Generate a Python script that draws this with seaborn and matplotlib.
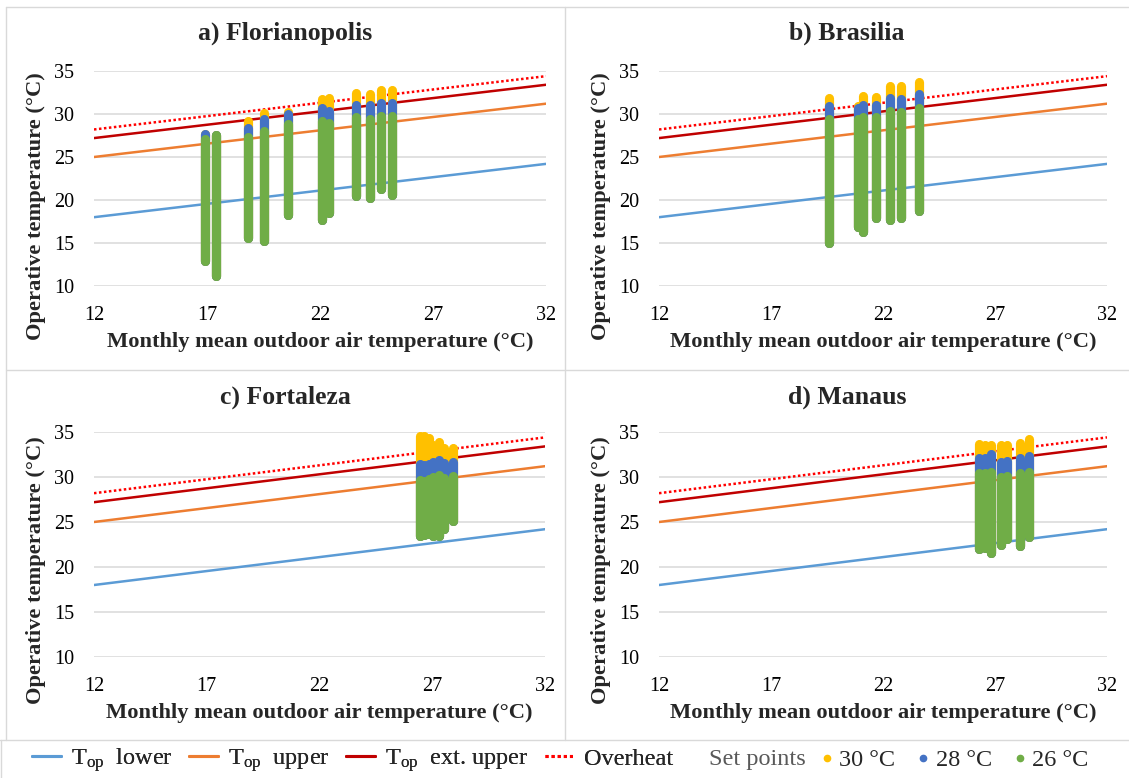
import matplotlib
matplotlib.use("Agg")
import matplotlib.pyplot as plt
from matplotlib.lines import Line2D
import pandas as pd
import seaborn as sns

# ---------------------------------------------------------------------------
# Adaptive comfort limits, given at the ends of the outdoor temperature range
# ---------------------------------------------------------------------------
band_x = [12, 32]
top_lower = [18.0, 24.2]
top_upper = [25.0, 31.2]
top_ext_upper = [27.2, 33.4]
overheat = [28.2, 34.4]

set_points = ["30 °C", "28 °C", "26 °C"]

# ---------------------------------------------------------------------------
# Hourly operative temperature ranges per month (column of points per month):
# monthly mean outdoor temperature, lowest value, and highest value per set point
# ---------------------------------------------------------------------------
flo_tout = [16.9, 17.4, 18.8, 19.5, 20.6, 22.1, 22.4, 23.6, 24.2, 24.7, 25.2]
flo_min = [12.9, 11.2, 15.6, 15.2, 18.3, 17.7, 18.5, 20.5, 20.2, 21.3, 20.6]
flo_max26 = [27.1, 27.6, 27.3, 28.0, 28.8, 29.2, 29.0, 29.6, 29.4, 29.8, 29.8]
flo_max28 = [27.7, 27.6, 28.4, 29.4, 30.0, 30.7, 30.3, 31.0, 31.0, 31.3, 31.3]
flo_max30 = [27.7, 27.6, 29.2, 30.1, 30.2, 31.7, 31.9, 32.4, 32.3, 32.8, 32.8]

bsb_tout = [19.6, 20.9, 21.1, 21.7, 22.3, 22.8, 23.6]
bsb_min = [15.0, 16.9, 16.3, 17.9, 17.7, 17.9, 18.7]
bsb_max26 = [29.4, 29.4, 29.6, 29.6, 30.3, 30.2, 30.7]
bsb_max28 = [30.9, 30.7, 31.1, 31.0, 31.9, 31.7, 32.3]
bsb_max30 = [31.9, 30.9, 32.1, 32.0, 33.2, 33.2, 33.7]

for_tout = [26.45, 26.65, 26.85, 27.05, 27.3, 27.5, 27.9]
for_min = [23.5, 23.6, 23.7, 23.5, 23.5, 24.2, 25.1]
for_max26 = [29.7, 29.6, 29.8, 30.0, 30.2, 29.9, 30.1]
for_max28 = [31.4, 31.3, 31.4, 31.7, 31.9, 31.5, 31.7]
for_max30 = [34.5, 34.5, 34.3, 33.6, 33.9, 33.2, 33.2]

mao_tout = [26.3, 26.55, 26.8, 27.25, 27.55, 28.1, 28.5]
mao_min = [22.0, 22.1, 21.6, 22.4, 23.1, 22.3, 23.3]
mao_max26 = [30.4, 30.4, 30.6, 30.0, 30.1, 30.4, 30.5]
mao_max28 = [32.1, 32.1, 32.5, 31.7, 31.8, 32.1, 32.3]
mao_max30 = [33.7, 33.5, 33.5, 33.5, 33.5, 33.8, 34.2]

titles = ["a) Florianopolis", "b) Brasilia", "c) Fortaleza", "d) Manaus"]

W, H = 1129, 778
FONT = "Liberation Serif"
GRID = "#D9D9D9"

band_styles = [
    (r"T$_{\mathregular{op}}$  lower", top_lower, "#5B9BD5", "-"),
    (r"T$_{\mathregular{op}}$  upper", top_upper, "#ED7D31", "-"),
    (r"T$_{\mathregular{op}}$  ext. upper", top_ext_upper, "#C00000", "-"),
    ("Overheat", overheat, "#FF0000", (0, (1, 1))),
]
sp_colors = {"30 °C": "#FFC000", "28 °C": "#4472C4", "26 °C": "#70AD47"}


def columns_frame(tout, tmin, tmax26, tmax28, tmax30):
    rows = []
    tops = {"30 °C": tmax30, "28 °C": tmax28, "26 °C": tmax26}
    for i, x in enumerate(tout):
        for sp in set_points:
            rows.append({"col": i, "sp": sp, "x": x, "y": tmin[i]})
            rows.append({"col": i, "sp": sp, "x": x, "y": tops[sp][i]})
    return pd.DataFrame(rows)


frames = [
    columns_frame(flo_tout, flo_min, flo_max26, flo_max28, flo_max30),
    columns_frame(bsb_tout, bsb_min, bsb_max26, bsb_max28, bsb_max30),
    columns_frame(for_tout, for_min, for_max26, for_max28, for_max30),
    columns_frame(mao_tout, mao_min, mao_max26, mao_max28, mao_max30),
]

sns.set_theme(style="white")
plt.rcParams["font.family"] = "serif"
plt.rcParams["font.serif"] = [FONT, "DejaVu Serif"]
plt.rcParams["mathtext.fontset"] = "custom"
plt.rcParams["mathtext.rm"] = FONT
plt.rcParams["mathtext.it"] = FONT + ":italic"
plt.rcParams["mathtext.bf"] = FONT + ":bold"


def fx(px):
    return px / W


def fy(py):
    return 1 - py / H


fig = plt.figure(figsize=(W / 100, H / 100), dpi=100)
fig.patch.set_facecolor("white")

# panel frames
frame_lines = [
    ((6, 1129), (7, 7)),
    ((6, 1129), (370, 370)),
    ((0, 1129), (740, 740)),
    ((6, 6), (7, 740)),
    ((565, 565), (7, 740)),
    ((1, 1), (740, 778)),
]
for (x0, x1), (y0, y1) in frame_lines:
    fig.add_artist(Line2D([fx(x0), fx(x1)], [fy(y0), fy(y1)],
                          transform=fig.transFigure, color=GRID, lw=1))

# plot-area pixel boxes: left, right, top, bottom
boxes = [(94, 546, 71, 286), (659, 1107, 71, 286),
         (94, 545, 432, 657), (659, 1107, 432, 657)]
chart_centers = [(285.5, 33), (847, 33), (285.5, 397), (847, 397)]
ylabel_pos = [(36, 206), (601, 206), (36, 570), (601, 570)]

for k, ((l, r, t, b), df) in enumerate(zip(boxes, frames)):
    ax = fig.add_axes([fx(l), fy(b), (r - l) / W, (b - t) / H])
    for label, ys, color, ls in band_styles:
        sns.lineplot(x=band_x, y=ys, color=color, lw=1.8, linestyle=ls,
                     ax=ax, legend=False)
    for sp in set_points:
        sub = df[df["sp"] == sp]
        sns.lineplot(data=sub, x="x", y="y", units="col", estimator=None,
                     sort=False, color=sp_colors[sp], lw=6.6,
                     solid_capstyle="round", legend=False, ax=ax)
    ax.set_xlim(12, 32)
    ax.set_ylim(10, 35)
    ax.set_xticks([12, 17, 22, 27, 32])
    ax.set_yticks([10, 15, 20, 25, 30, 35])
    ax.set(xlabel="", ylabel="")
    ax.grid(axis="y", color=GRID, lw=1.1)
    ax.grid(axis="x", visible=False)
    ax.set_axisbelow(True)
    for s in ax.spines.values():
        s.set_visible(False)
    ax.tick_params(length=0, pad=14.5, labelsize=14.5, colors="black",
                   labelfontfamily=FONT)

    cx, cy = chart_centers[k]
    fig.text(fx(cx), fy(cy), titles[k], ha="center", va="center",
             fontsize=18.5, fontweight="bold", family=FONT)
    fig.text(fx((l + r) / 2), fy(b + 56), "Monthly mean outdoor air temperature (°C)",
             ha="center", va="center", fontsize=16.2, fontweight="bold", family=FONT)
    yx, yy = ylabel_pos[k]
    fig.text(fx(yx), fy(yy), "Operative temperature (°C)", rotation=90,
             ha="center", va="center", fontsize=16.2, fontweight="bold", family=FONT)

# legend: comfort limits
LEG = 17.5
line_handles = [Line2D([], [], color=c, lw=2.2, linestyle=ls)
                for _, _, c, ls in band_styles]
leg1 = fig.legend(line_handles, [s[0] for s in band_styles], loc="center left",
                  bbox_to_anchor=(fx(32), fy(760)), ncol=4, frameon=False,
                  prop={"family": FONT, "size": LEG},
                  handlelength=1.2, handletextpad=0.42,
                  columnspacing=0.66, borderpad=0, borderaxespad=0)
fig.text(fx(709), fy(760), "Set points", ha="left", va="center",
         fontsize=LEG, color="#595959", family=FONT)
dot_handles = [Line2D([], [], color=sp_colors[sp], marker="o", linestyle="none",
                      markersize=4.5) for sp in set_points]
fig.legend(dot_handles, set_points, loc="center left",
           bbox_to_anchor=(fx(820), fy(760)), ncol=3, frameon=False,
           prop={"family": FONT, "size": LEG},
           handlelength=0.6, handletextpad=0.2,
           columnspacing=0.85, borderpad=0, borderaxespad=0)
fig.add_artist(leg1)

fig.savefig("out.png", dpi=100, facecolor="white")
